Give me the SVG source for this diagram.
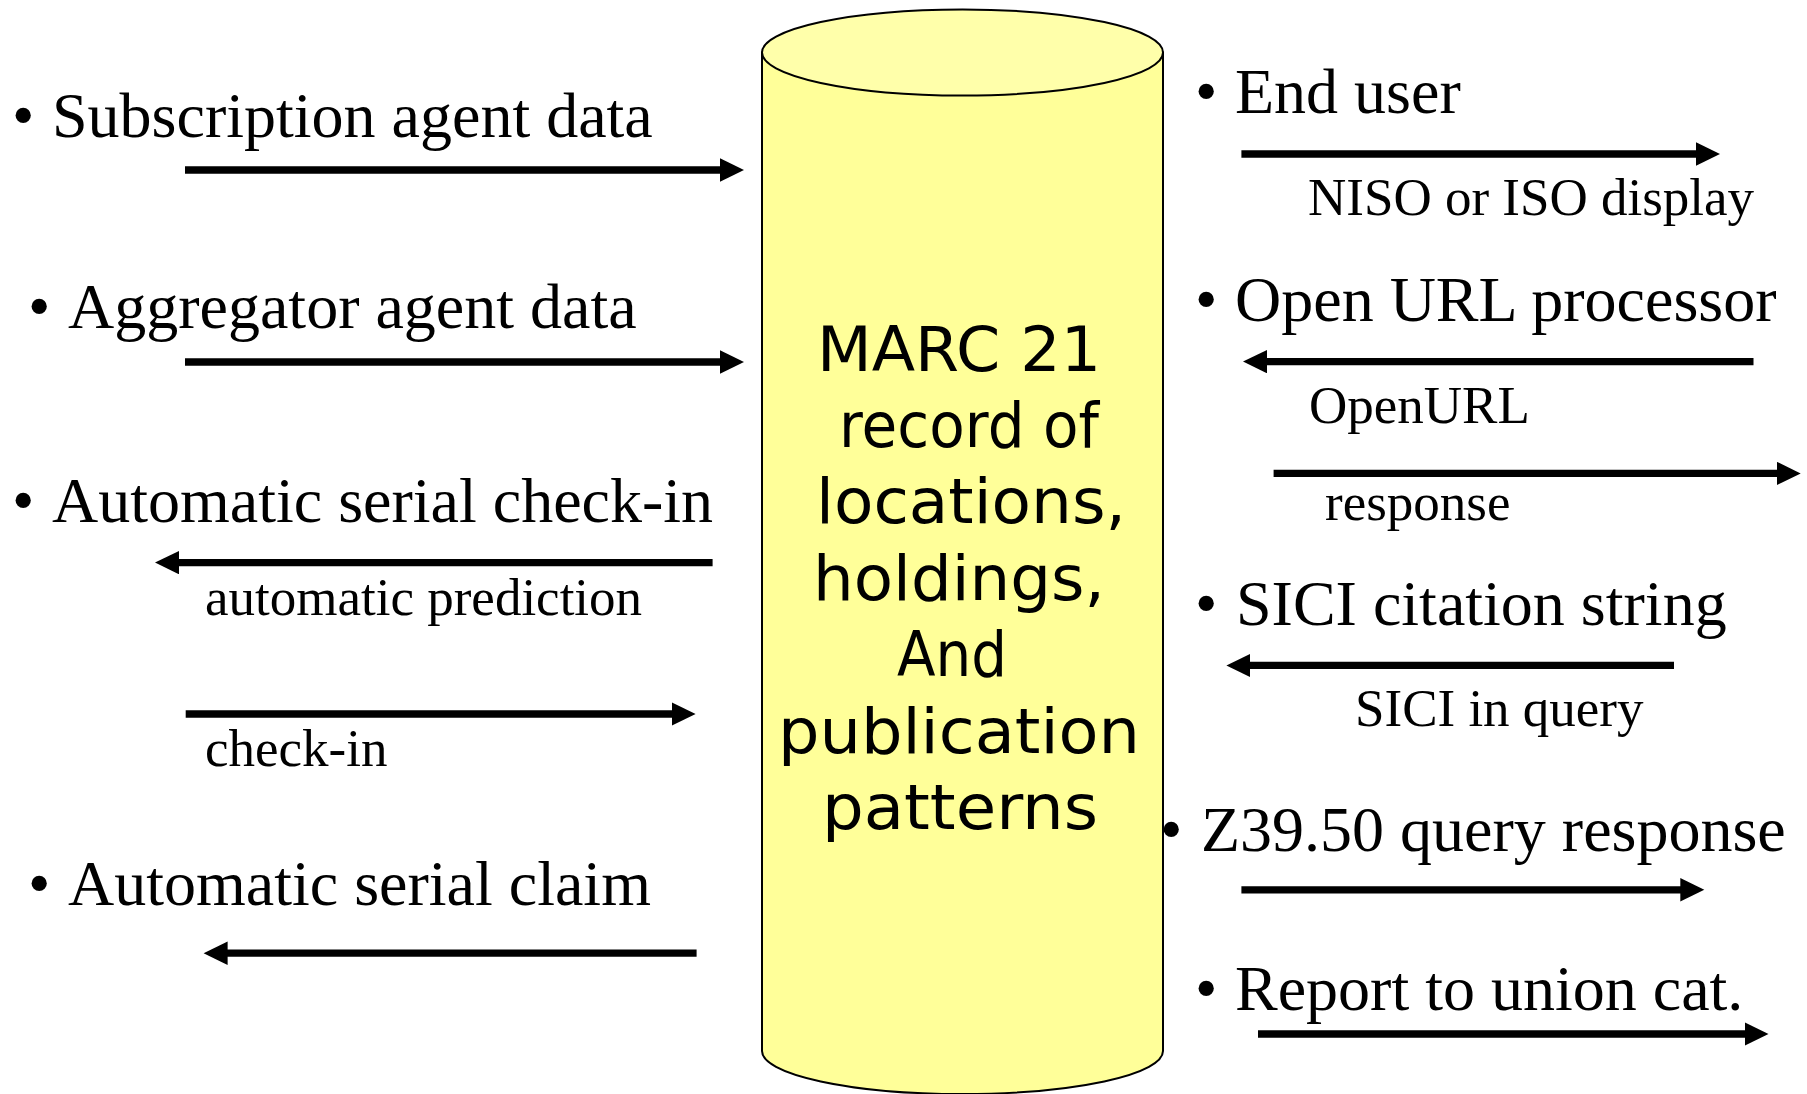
<svg xmlns="http://www.w3.org/2000/svg" width="1807" height="1094" viewBox="0 0 1807 1094">
<style>
.lbl{font-family:"Liberation Serif","Times New Roman",serif;font-size:64px;fill:#000}
.sub{font-family:"Liberation Serif","Times New Roman",serif;font-size:53px;fill:#000}
.ctr{font-family:"DejaVu Sans",Verdana,sans-serif;font-size:62px;fill:#000}
.arr{stroke:#000;stroke-width:7.3;fill:none;marker-end:url(#ah)}
</style>
<defs>
<marker id="ah" markerUnits="userSpaceOnUse" markerWidth="26" markerHeight="24" refX="1" refY="11.7" orient="auto">
<path d="M0,0 L24,11.7 L0,23.4 Z" fill="#000"/>
</marker>
</defs>
<rect width="1807" height="1094" fill="#fff"/>

<g id="marc-cylinder">
<path d="M762,52.5 L762,1051 A200.5,43 0 0 0 1163,1051 L1163,52.5 Z" fill="#FFFF99" stroke="#000" stroke-width="2"/>
<ellipse cx="962.5" cy="52.5" rx="200.5" ry="43" fill="#FFFFAA" stroke="#000" stroke-width="2"/>
<text class="ctr" x="817" y="371" textLength="284" lengthAdjust="spacingAndGlyphs">MARC 21</text>
<text class="ctr" x="839" y="447" textLength="260" lengthAdjust="spacingAndGlyphs">record of</text>
<text class="ctr" x="816" y="523" textLength="310" lengthAdjust="spacingAndGlyphs">locations,</text>
<text class="ctr" x="813" y="599.5" textLength="292" lengthAdjust="spacingAndGlyphs">holdings,</text>
<text class="ctr" x="897" y="676" textLength="110" lengthAdjust="spacingAndGlyphs">And</text>
<text class="ctr" x="778" y="752.5" textLength="362" lengthAdjust="spacingAndGlyphs">publication</text>
<text class="ctr" x="822" y="829" textLength="276" lengthAdjust="spacingAndGlyphs">patterns</text>
</g>

<g id="subscription-agent">
<text class="lbl" x="12" y="137">•</text>
<text class="lbl" x="52" y="137">Subscription agent data</text>
</g>
<g id="aggregator-agent">
<text class="lbl" x="28" y="328">•</text>
<text class="lbl" x="68" y="328">Aggregator agent data</text>
</g>
<g id="serial-checkin">
<text class="lbl" x="12" y="522">•</text>
<text class="lbl" x="52" y="522">Automatic serial check-in</text>
<text class="sub" x="205" y="615">automatic prediction</text>
<text class="sub" x="205" y="766">check-in</text>
</g>
<g id="serial-claim">
<text class="lbl" x="28" y="905">•</text>
<text class="lbl" x="68" y="905">Automatic serial claim</text>
</g>

<g id="end-user">
<text class="lbl" x="1195" y="113">•</text>
<text class="lbl" x="1235" y="113">End user</text>
<text class="sub" x="1308" y="215">NISO or ISO display</text>
</g>
<g id="openurl-processor">
<text class="lbl" x="1195" y="321">•</text>
<text class="lbl" x="1235" y="321">Open URL processor</text>
<text class="sub" x="1309" y="423">OpenURL</text>
<text class="sub" x="1325" y="520">response</text>
</g>
<g id="sici">
<text class="lbl" x="1195" y="625">•</text>
<text class="lbl" x="1236" y="625">SICI citation string</text>
<text class="sub" x="1355" y="726">SICI in query</text>
</g>
<g id="z3950">
<text class="lbl" x="1160" y="851">•</text>
<text class="lbl" x="1201" y="851">Z39.50 query response</text>
</g>
<g id="union-cat">
<text class="lbl" x="1195" y="1010">•</text>
<text class="lbl" x="1235" y="1010">Report to union cat.</text>
</g>

<g id="connectors">
<line class="arr" x1="185" y1="170" x2="721" y2="170"/>
<line class="arr" x1="185" y1="362" x2="721" y2="362"/>
<line class="arr" x1="712.6" y1="562.6" x2="178" y2="562.6"/>
<line class="arr" x1="185.7" y1="714" x2="672.6" y2="714"/>
<line class="arr" x1="696.6" y1="953.2" x2="226.6" y2="953.2"/>
<line class="arr" x1="1241.4" y1="154" x2="1697" y2="154"/>
<line class="arr" x1="1753.5" y1="361.6" x2="1266" y2="361.6"/>
<line class="arr" x1="1273.6" y1="473.4" x2="1777.7" y2="473.4"/>
<line class="arr" x1="1674" y1="665.4" x2="1249.4" y2="665.4"/>
<line class="arr" x1="1241.4" y1="889.8" x2="1681.3" y2="889.8"/>
<line class="arr" x1="1258" y1="1034" x2="1745.5" y2="1034"/>
</g>
</svg>
